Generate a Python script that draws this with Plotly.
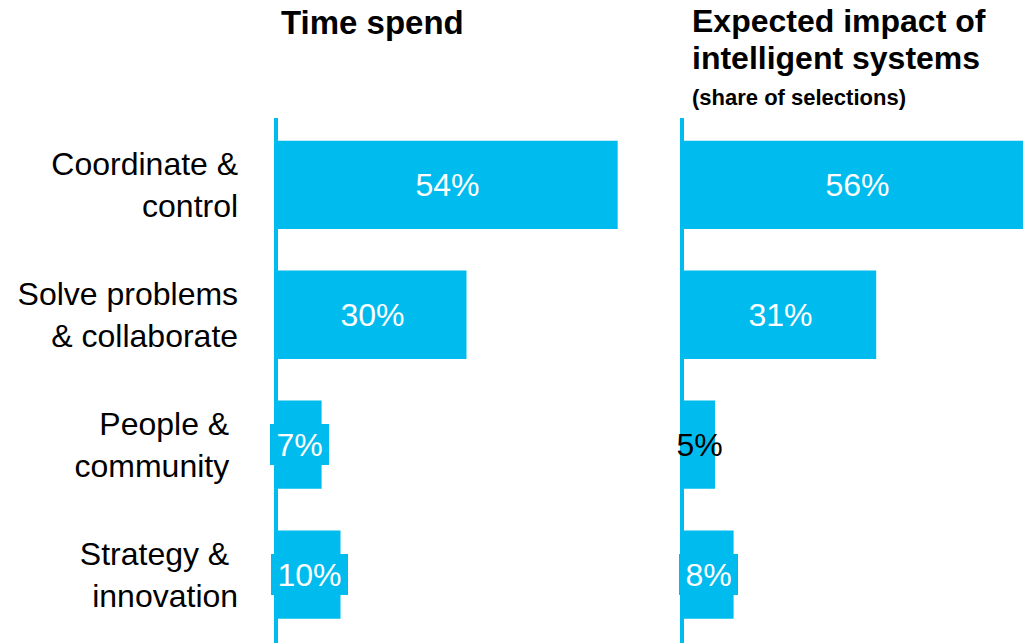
import plotly.graph_objects as go

categories = ["Coordinate &<br>control", "Solve problems<br>& collaborate",
              "People &\u00a0<br>community\u00a0", "Strategy &\u00a0<br>innovation"]
time_spend = [54, 30, 7, 10]
impact = [56, 31, 5, 8]
time_labels = ["54%", "30%", "7%", "10%"]
impact_labels = ["56%", "31%", "5%", "8%"]
title_left = "<b>Time spend</b>"
title_right_lines = ["<b>Expected impact of</b>", "<b>intelligent systems</b>"]
subtitle_right = "<b>(share of selections)</b>"

W, H = 1023, 643
BLUE = "#00BCEE"
FONT = "Liberation Sans, Arial, sans-serif"
LABEL_SIZE = 32

def px(x):
    return x / W

def py(y):
    return 1 - y / H

def label_box_width(text):
    # approximate Arial advance widths (em units) for digits and percent sign
    em = sum(0.889 if ch == "%" else 0.556 for ch in text)
    return em * LABEL_SIZE + 13

fig = go.Figure()
fig.add_trace(go.Bar(x=time_spend, y=categories, orientation="h", marker_color=BLUE,
                     marker_line_width=0, width=0.68, xaxis="x", yaxis="y", showlegend=False,
                     hoverinfo="skip"))
fig.add_trace(go.Bar(x=impact, y=categories, orientation="h", marker_color=BLUE,
                     marker_line_width=0, width=0.68, xaxis="x2", yaxis="y2", showlegend=False,
                     hoverinfo="skip"))

label_colors_right = ["white", "white", "black", "white"]
label_bg_right = [BLUE, BLUE, "rgba(0,0,0,0)", BLUE]

annotations = []
for v, c, t in zip(time_spend, categories, time_labels):
    annotations.append(dict(x=v / 2, y=c, xref="x", yref="y", text=t, showarrow=False,
                            font=dict(family=FONT, size=LABEL_SIZE, color="white"),
                            bgcolor=BLUE, borderpad=0, borderwidth=0,
                            width=label_box_width(t), height=41,
                            xanchor="center", yanchor="middle"))
for v, c, t, fc, bg in zip(impact, categories, impact_labels, label_colors_right, label_bg_right):
    annotations.append(dict(x=v / 2, y=c, xref="x2", yref="y2", text=t, showarrow=False,
                            font=dict(family=FONT, size=LABEL_SIZE, color=fc),
                            bgcolor=bg, borderpad=0, borderwidth=0,
                            width=label_box_width(t), height=41,
                            xanchor="center", yanchor="middle"))

annotations.append(dict(x=px(279), y=py(2), xref="paper", yref="paper", text=title_left,
                        showarrow=False, xanchor="left", yanchor="top", align="left",
                        font=dict(family=FONT, size=33, color="black")))
for i, line in enumerate(title_right_lines):
    annotations.append(dict(x=px(690), y=py(1 + 37 * i), xref="paper", yref="paper", text=line,
                            showarrow=False, xanchor="left", yanchor="top", align="left",
                            font=dict(family=FONT, size=32, color="black")))
annotations.append(dict(x=px(690), y=py(83), xref="paper", yref="paper", text=subtitle_right,
                        showarrow=False, xanchor="left", yanchor="top", align="left",
                        font=dict(family=FONT, size=22, color="black")))

yrange = [3.527, -0.515]
ydom = [0, (H - 118) / H]

fig.update_layout(
    width=W, height=H, margin=dict(l=0, r=0, t=0, b=0),
    paper_bgcolor="white", plot_bgcolor="white",
    font=dict(family=FONT, size=32, color="black"),
    xaxis=dict(domain=[px(277.5), px(277.5 + 60 * 6.3)], range=[0, 60], visible=False,
               anchor="y"),
    xaxis2=dict(domain=[px(684), 1], range=[0, 339 / 6.2], visible=False, anchor="y2"),
    yaxis=dict(domain=ydom, range=yrange, anchor="x", showline=True, linecolor=BLUE,
               linewidth=4, showgrid=False, zeroline=False, ticks="",
               ticklabelstandoff=29, tickfont=dict(family=FONT, size=32, color="black")),
    yaxis2=dict(domain=ydom, range=yrange, anchor="x2", showline=True, linecolor=BLUE,
                linewidth=4, showgrid=False, zeroline=False, ticks="", showticklabels=False),
    annotations=annotations,
)

fig.write_html("out.html", config={"displayModeBar": False},
               post_script="document.body.style.margin='0';")
